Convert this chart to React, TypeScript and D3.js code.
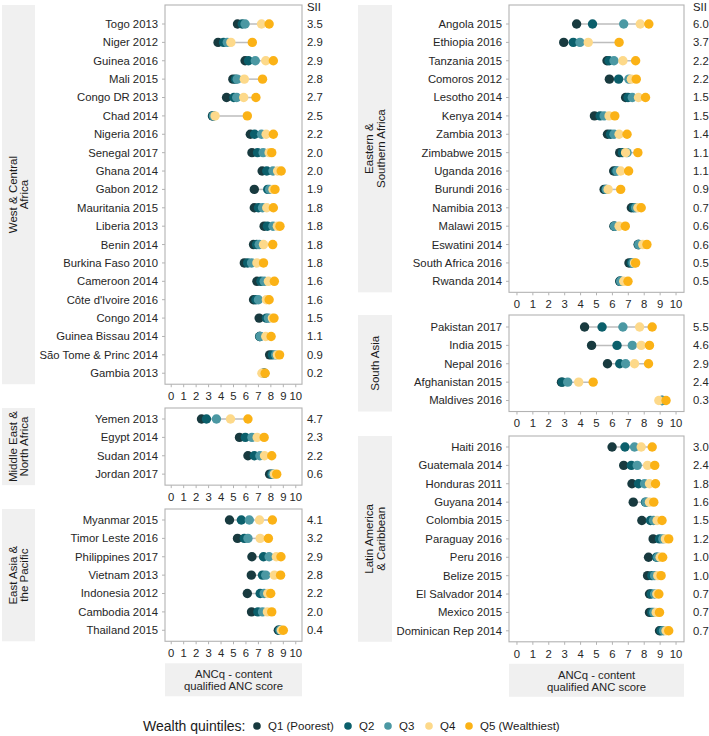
import React from "react";
import * as d3 from "d3";

// ---------- DATA ----------
const regions = [
  "West & Central Africa",
  "Middle East & North Africa",
  "East Asia & the Pacific",
  "Eastern & Southern Africa",
  "South Asia",
  "Latin America & Caribbean",
];
const regionLines = [
  ["West & Central", "Africa"],
  ["Middle East &", "North Africa"],
  ["East Asia &", "the Pacific"],
  ["Eastern &", "Southern Africa"],
  ["South Asia"],
  ["Latin America", "& Caribbean"],
];
const countries = [
  "Togo 2013", "Niger 2012", "Guinea 2016", "Mali 2015", "Congo DR 2013", "Chad 2014", "Nigeria 2016",
  "Senegal 2017", "Ghana 2014", "Gabon 2012", "Mauritania 2015", "Liberia 2013", "Benin 2014",
  "Burkina Faso 2010", "Cameroon 2014", "Côte d'Ivoire 2016", "Congo 2014", "Guinea Bissau 2014",
  "São Tome & Princ 2014", "Gambia 2013",
  "Yemen 2013", "Egypt 2014", "Sudan 2014", "Jordan 2017",
  "Myanmar 2015", "Timor Leste 2016", "Philippines 2017", "Vietnam 2013", "Indonesia 2012", "Cambodia 2014", "Thailand 2015",
  "Angola 2015", "Ethiopia 2016", "Tanzania 2015", "Comoros 2012", "Lesotho 2014", "Kenya 2014", "Zambia 2013",
  "Zimbabwe 2015", "Uganda 2016", "Burundi 2016", "Namibia 2013", "Malawi 2015", "Eswatini 2014",
  "South Africa 2016", "Rwanda 2014",
  "Pakistan 2017", "India 2015", "Nepal 2016", "Afghanistan 2015", "Maldives 2016",
  "Haiti 2016", "Guatemala 2014", "Honduras 2011", "Guyana 2014", "Colombia 2015", "Paraguay 2016",
  "Peru 2016", "Belize 2015", "El Salvador 2014", "Mexico 2015", "Dominican Rep 2014",
];
const countryRegion = [
  ...Array(20).fill(0), ...Array(4).fill(1), ...Array(7).fill(2),
  ...Array(15).fill(3), ...Array(5).fill(4), ...Array(11).fill(5),
];
const q1 = [
  5.32, 3.76, 5.93, 4.95, 4.44, 3.31, 6.35, 6.48, 7.3, 6.67, 6.67, 7.46, 6.61, 5.87, 6.88, 6.61, 7.06, 7.1, 7.9, 7.4,
  2.43, 5.48, 6.16, 7.9,
  4.68, 5.32, 6.48, 6.43, 6.11, 6.45, 8.6,
  3.75, 2.94, 5.66, 5.81, 6.83, 4.87, 5.69, 6.46, 6.08, 5.48, 7.19, 6.1, 7.62, 7.04, 6.46,
  4.25, 4.69, 5.69, 2.8, 9.1,
  5.98, 6.71, 7.23, 7.31, 7.85, 8.56, 8.27, 8.21, 8.33, 8.33, 8.96,
];
const q2 = [
  5.7, 4.2, 6.2, 5.16, 5.03, 3.35, 6.69, 6.93, 7.67, 7.75, 7.0, 7.72, 6.85, 6.14, 7.2, 6.8, 7.64, 7.12, 8.12, 7.45,
  2.83, 5.95, 6.67, 8.07,
  5.63, 5.87, 7.41, 7.33, 7.14, 6.96, 8.68,
  4.75, 3.54, 5.79, 6.39, 6.98, 5.23, 5.88, 6.63, 6.21, 5.58, 7.33, 6.12, 7.64, 7.19, 6.49,
  5.35, 6.29, 6.46, 2.85, 9.15,
  6.79, 7.19, 7.64, 8.08, 8.39, 8.96, 8.77, 8.48, 8.44, 8.48, 9.06,
];
const q3 = [
  5.93, 4.5, 6.75, 5.3, 5.26, 3.4, 7.25, 7.38, 8.17, 7.9, 7.33, 8.17, 7.06, 6.45, 7.46, 7.0, 7.8, 7.14, 8.38, 7.5,
  3.63, 6.48, 7.12, 8.17,
  6.27, 6.16, 7.86, 7.59, 7.46, 7.33, 8.75,
  6.71, 3.96, 6.1, 7.04, 7.25, 5.48, 6.1, 6.92, 6.29, 5.62, 7.46, 6.14, 7.66, 7.29, 6.52,
  6.66, 7.25, 6.83, 3.19, 9.12,
  7.39, 7.56, 8.02, 8.12, 8.58, 9.17, 8.85, 8.65, 8.65, 8.6, 9.21,
];
const q4 = [
  7.25, 4.79, 7.59, 5.87, 5.82, 3.52, 7.62, 7.86, 8.54, 8.17, 7.67, 8.52, 7.41, 6.88, 7.8, 7.64, 8.12, 7.59, 8.52, 7.28,
  4.76, 6.9, 7.49, 8.28,
  7.09, 7.14, 8.44, 8.28, 7.75, 7.72, 8.85,
  7.75, 4.48, 6.66, 7.19, 7.64, 5.79, 6.42, 6.83, 6.52, 5.73, 7.6, 6.42, 7.91, 7.39, 6.71,
  7.71, 7.81, 7.39, 3.88, 8.92,
  7.81, 8.21, 8.33, 8.33, 8.81, 9.33, 9.0, 8.85, 8.79, 8.75, 9.37,
];
const q5 = [
  7.86, 6.51, 8.2, 7.33, 6.8, 6.11, 8.2, 8.07, 8.83, 8.33, 8.2, 8.73, 8.15, 7.41, 8.28, 7.86, 8.25, 8.02, 8.7, 7.54,
  6.16, 7.46, 8.07, 8.47,
  8.12, 7.8, 8.81, 8.78, 7.99, 8.07, 9.0,
  8.29, 6.42, 7.46, 7.5, 8.08, 6.15, 6.92, 7.6, 7.02, 6.52, 7.81, 6.81, 8.17, 7.46, 6.98,
  8.5, 8.33, 8.27, 4.79, 9.37,
  8.5, 8.66, 8.71, 8.6, 9.12, 9.54, 9.16, 9.06, 8.92, 8.96, 9.54,
];
const sii = [
  "3.5", "2.9", "2.9", "2.8", "2.7", "2.5", "2.2", "2.0", "2.0", "1.9", "1.8", "1.8", "1.8", "1.8", "1.6", "1.6", "1.5", "1.1", "0.9", "0.2",
  "4.7", "2.3", "2.2", "0.6",
  "4.1", "3.2", "2.9", "2.8", "2.2", "2.0", "0.4",
  "6.0", "3.7", "2.2", "2.2", "1.5", "1.5", "1.4", "1.1", "1.1", "0.9", "0.7", "0.6", "0.6", "0.5", "0.5",
  "5.5", "4.6", "2.9", "2.4", "0.3",
  "3.0", "2.4", "1.8", "1.6", "1.5", "1.2", "1.0", "1.0", "0.7", "0.7", "0.7",
];
const quintileLabels = ["Q1 (Poorest)", "Q2", "Q3", "Q4", "Q5 (Wealthiest)"];
const quintileColors = ["#183a3f", "#0b5f6b", "#4b98a3", "#fdd98a", "#fbb216"];
const xTicks = [0, 1, 2, 3, 4, 5, 6, 7, 8, 9, 10];
const xTitle = ["ANCq - content", "qualified ANC score"];

// ---------- LAYOUT ----------
const W = 709, H = 736;
const FONT = "'Liberation Sans', Arial, sans-serif";
const FS = 11.3;
const STEP = 18.38;
const cols = [
  { boxL: 165, boxR: 302, stripL: 2, stripR: 35, siiX: 307 },
  { boxL: 509, boxR: 684, stripL: 358, stripR: 392, siiX: 693 },
];
const panelLayout = [
  { col: 0, first: 24, top: 5, axis: true },
  { col: 0, first: 419, top: 408, axis: true },
  { col: 0, first: 520, top: 509, axis: true, title: true },
  { col: 1, first: 24, top: 5, axis: true },
  { col: 1, first: 327, top: 315, axis: true },
  { col: 1, first: 447, top: 436, axis: true, title: true },
];

export default function App() {
  const quints = [q1, q2, q3, q4, q5];
  return (
    <svg width={W} height={H} style={{ position: "absolute", left: 0, top: 0, background: "#fff" }} fontFamily={FONT}>
      {regions.map((reg, ri) => {
        const L = panelLayout[ri];
        const c = cols[L.col];
        const idx = countries.map((_, i) => i).filter((i) => countryRegion[i] === ri);
        const names = idx.map((i) => countries[i]);
        const y = d3.scalePoint<string>().domain(names).range([L.first, L.first + (names.length - 1) * STEP]);
        const x = d3.scaleLinear().domain([-0.5, 10.5]).range([c.boxL, c.boxR]);
        const bottom = L.first + (names.length - 1) * STEP + 11;
        const lines = regionLines[ri];
        const stripCx = (c.stripL + c.stripR) / 2;
        const midY = (L.top + bottom) / 2;
        return (
          <g key={reg}>
            {/* strip */}
            <rect x={c.stripL} y={L.top} width={c.stripR - c.stripL} height={bottom - L.top} fill="#f0f0f0" />
            <text transform={`translate(${stripCx},${midY}) rotate(-90)`} textAnchor="middle" fontSize={11.5} fill="#1a1a1a">
              {lines.map((ln, k) => (
                <tspan key={k} x={0} y={(k - (lines.length - 1) / 2) * 11.5} dy="0.35em">{ln}</tspan>
              ))}
            </text>
            {/* panel box */}
            <rect x={c.boxL} y={L.top} width={c.boxR - c.boxL} height={bottom - L.top} fill="#fff" stroke="#b3b3b3" strokeWidth={1.1} />
            {ri === 0 || ri === 3 ? (
              <text x={c.siiX} y={L.top + 2} dy="0.35em" fontSize={FS} fill="#1a1a1a">SII</text>
            ) : null}
            {/* y axis labels & ticks */}
            {idx.map((i) => {
              const yy = y(countries[i])!;
              return (
                <g key={countries[i]}>
                  <line x1={c.boxL - 3} x2={c.boxL} y1={yy} y2={yy} stroke="#b3b3b3" />
                  <text x={c.boxL - 7} y={yy} dy="0.35em" textAnchor="end" fontSize={FS} fill="#262626">{countries[i]}</text>
                  <text x={c.siiX} y={yy} dy="0.35em" fontSize={FS} fill="#262626">{sii[i]}</text>
                </g>
              );
            })}
            {/* dumbbells */}
            {idx.map((i) => {
              const yy = y(countries[i])!;
              const vals = quints.map((q) => q[i]);
              const ext = d3.extent(vals) as [number, number];
              return (
                <g key={"d" + i}>
                  <line x1={x(ext[0])} x2={x(ext[1])} y1={yy} y2={yy} stroke="#bdbdbd" strokeWidth={1.5} />
                  {vals.map((v, k) => (
                    <circle key={k} cx={x(v)} cy={yy} r={4.7} fill={quintileColors[k]} />
                  ))}
                </g>
              );
            })}
            {/* x axis */}
            {L.axis &&
              xTicks.map((t) => (
                <g key={"t" + t}>
                  <line x1={x(t)} x2={x(t)} y1={bottom} y2={bottom + 3} stroke="#b3b3b3" />
                  <text x={x(t)} y={bottom + 12} dy="0.35em" textAnchor="middle" fontSize={FS} fill="#262626">{t}</text>
                </g>
              ))}
            {L.title && (
              <g>
                <rect x={c.boxL} y={bottom + 22} width={c.boxR - c.boxL} height={33} fill="#f0f0f0" />
                <text textAnchor="middle" fontSize={FS} fill="#262626">
                  {xTitle.map((ln, k) => (
                    <tspan key={k} x={(c.boxL + c.boxR) / 2} y={bottom + 33 + k * 12} dy="0.35em">{ln}</tspan>
                  ))}
                </text>
              </g>
            )}
          </g>
        );
      })}
      {/* legend */}
      <g>
        <text x={143} y={726} dy="0.35em" fontSize={14} fill="#1a1a1a">Wealth quintiles:</text>
        {quintileLabels.map((lab, k) => {
          const cx = [257, 348, 388, 429, 469][k];
          return (
            <g key={lab}>
              <circle cx={cx} cy={726} r={3.8} fill={quintileColors[k]} />
              <text x={cx + 11} y={726} dy="0.35em" fontSize={11.5} fill="#1a1a1a">{lab}</text>
            </g>
          );
        })}
      </g>
    </svg>
  );
}
